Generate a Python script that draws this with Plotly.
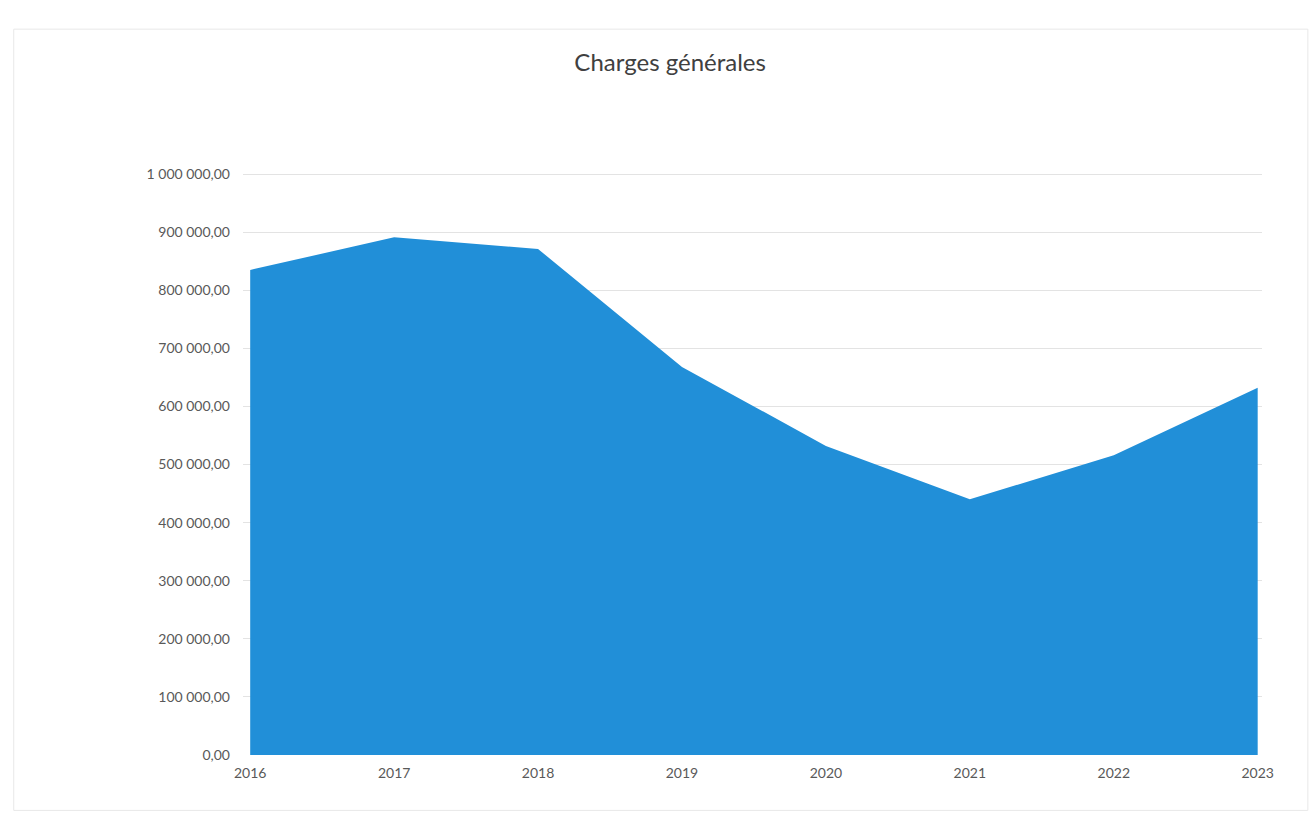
import plotly.graph_objects as go

# Annual general expenses (charges générales)
years = [2016, 2017, 2018, 2019, 2020, 2021, 2022, 2023]
charges = [835000, 891000, 871000, 668000, 532000, 440000, 516000, 632000]

y_ticks = [0, 100000, 200000, 300000, 400000, 500000, 600000, 700000, 800000, 900000, 1000000]
y_tick_labels = ["0,00", "100 000,00", "200 000,00", "300 000,00", "400 000,00",
                 "500 000,00", "600 000,00", "700 000,00", "800 000,00", "900 000,00",
                 "1 000 000,00"]
x_tick_labels = [str(y) for y in years]

FILL = "rgb(33,143,216)"
FONT = "Lato, 'Open Sans', sans-serif"

fig = go.Figure()
fig.add_trace(go.Scatter(
    x=years, y=charges,
    mode="lines",
    line=dict(color=FILL, width=0),
    fill="tozeroy",
    fillcolor=FILL,
    hoverinfo="x+y",
    showlegend=False,
))

fig.update_layout(
    width=1314, height=818,
    margin=dict(l=243, r=52, t=172, b=63),
    paper_bgcolor="white",
    plot_bgcolor="white",
    title=dict(text="Charges générales", x=0.51, xanchor="center", y=0.923, yanchor="middle",
               font=dict(family=FONT, size=24, color="#404040")),
    font=dict(family=FONT, size=14, color="#595959"),
    xaxis=dict(
        range=[2015.95, 2023.03],
        tickvals=years, ticktext=x_tick_labels,
        showgrid=False, zeroline=False, showline=False,
        ticks="", ticklabelstandoff=8,
        tickfont=dict(size=14, color="#595959"),
    ),
    yaxis=dict(
        range=[0, 1003500],
        tickvals=y_ticks, ticktext=y_tick_labels,
        showgrid=True, gridcolor="#e3e3e3", gridwidth=1,
        zeroline=False, showline=False, ticks="",
        ticklabelstandoff=12,
        tickfont=dict(size=14, color="#595959"),
    ),
    shapes=[dict(type="rect", xref="paper", yref="paper",
                 x0=-0.225, x1=1.045, y0=-0.095, y1=1.245,
                 line=dict(color="#e8e8e8", width=1), layer="below")],
)

fig.write_html("out.html")
